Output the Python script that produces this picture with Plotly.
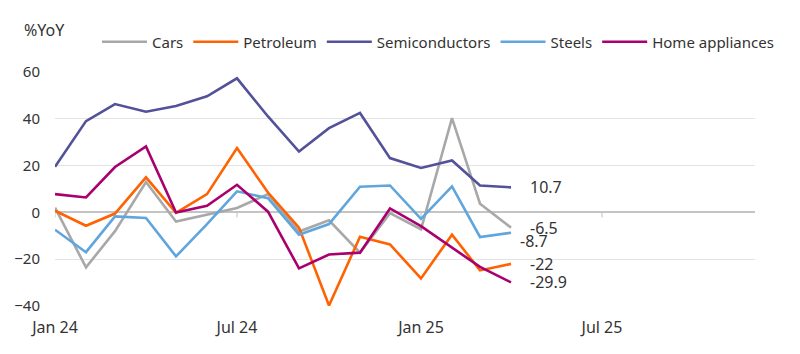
import plotly.graph_objects as go
import pandas as pd

dates = pd.date_range("2024-01-01", "2025-04-01", freq="MS")

cars = [2, -23.5, -8, 13, -3.9, -1, 1.9, 7.8, -8.2, -3.4, -17.2, -0.3, -7.2, 40.3, 3.7, -6.5]
petroleum = [0.7, -5.7, -0.5, 15, -0.2, 7.8, 27.5, 8.5, -6.5, -39.8, -10.4, -13.7, -28.2, -9.5, -24.8, -22]
semis = [19.5, 39, 46.3, 43, 45.5, 49.6, 57.3, 41, 26, 36, 42.5, 23.2, 19, 22.2, 11.5, 10.7]
steels = [-7.4, -17, -1.7, -2.4, -18.8, -5, 9, 6.1, -9.5, -5, 11, 11.5, -2.8, 11.1, -10.5, -8.7]
home = [7.8, 6.4, 19.4, 28.2, -0.1, 2.8, 11.8, 0.3, -23.9, -18, -17.2, 1.7, -5.9, -15.1, -23.3, -29.9]

series = [
    ("Cars", cars, "#a8a8a8"),
    ("Petroleum", petroleum, "#ff6200"),
    ("Semiconductors", semis, "#525199"),
    ("Steels", steels, "#60a6dc"),
    ("Home appliances", home, "#a8006e"),
]

end_labels = ["-6.5", "-22", "10.7", "-8.7", "-29.9"]
label_shift = [(17, 0), (17, 0), (17, 0), (7, -8), (17, 0)]

tick_vals = ["2024-01-01", "2024-07-01", "2025-01-01", "2025-07-01"]
tick_text = ["Jan 24", "Jul 24", "Jan 25", "Jul 25"]

FONT = "Noto Sans"
TXT = "#333333"

W, H = 800, 354
L, R, T, B = 55, 45, 72, 48
plot_w = W - L - R
plot_h = H - T - B

fig = go.Figure()
for name, vals, col in series:
    fig.add_trace(go.Scatter(x=dates, y=vals, name=name, mode="lines",
                             line=dict(color=col, width=2.6)))

for (name, vals, col), lab, (dx, dy) in zip(series, end_labels, label_shift):
    fig.add_annotation(x=dates[-1], y=vals[-1], text=lab, showarrow=False,
                       xanchor="left", yanchor="middle", xshift=dx, yshift=dy,
                       font=dict(family=FONT, size=16, color=TXT))

for tv in tick_vals:
    fig.add_shape(type="line", x0=tv, x1=tv, xref="x", yref="y",
                  ysizemode="pixel", yanchor=0, y0=0, y1=-5,
                  line=dict(color="#bfbfbf", width=1), layer="below")

fig.add_annotation(x=(22 - L) / plot_w, y=(H - B - 30) / plot_h,
                   xref="paper", yref="paper", text="%YoY",
                   showarrow=False, xanchor="left", yanchor="middle",
                   font=dict(family=FONT, size=16, color=TXT))

fig.update_layout(
    width=W, height=H,
    margin=dict(l=L, r=R, t=T, b=B),
    paper_bgcolor="white", plot_bgcolor="white",
    font=dict(family=FONT, size=16, color=TXT),
    showlegend=True,
    legend=dict(orientation="h", xref="paper", yref="paper",
                x=(97 - L) / plot_w, xanchor="left",
                y=(H - B - 42) / plot_h, yanchor="middle",
                font=dict(family=FONT, size=15, color=TXT),
                itemwidth=45, bgcolor="rgba(0,0,0,0)"),
    xaxis=dict(type="date", range=["2024-01-01", "2025-12-01"],
               tickvals=tick_vals, ticktext=tick_text, showgrid=False,
               zeroline=False, showline=False, ticks="", ticklabelstandoff=10,
               tickfont=dict(family=FONT, size=16, color=TXT)),
    yaxis=dict(range=[-40, 60], tickvals=[-40, -20, 0, 20, 40, 60],
               showgrid=True, gridcolor="#e3e3e3", gridwidth=1,
               zeroline=True, zerolinecolor="#c4c4c4", zerolinewidth=2,
               showline=False, ticks="", ticklabelstandoff=14,
               tickfont=dict(family=FONT, size=15, color=TXT)),
)

fig.write_html("out.html")
